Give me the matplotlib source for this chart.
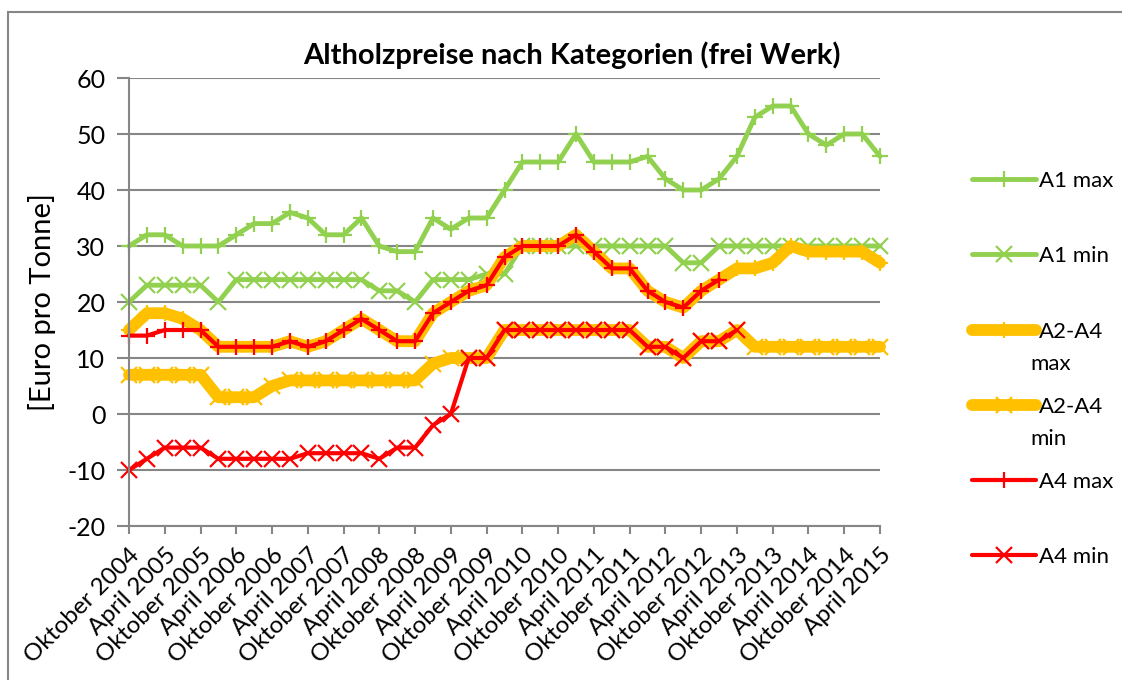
import numpy as np
import matplotlib
matplotlib.use("Agg")
import matplotlib.pyplot as plt
from matplotlib.patches import Rectangle

plt.rcParams['font.family'] = ['Lato', 'DejaVu Sans']
plt.rcParams['axes.unicode_minus'] = False

tick_labels = ["Oktober 2004", "April 2005", "Oktober 2005", "April 2006", "Oktober 2006",
               "April 2007", "Oktober 2007", "April 2008", "Oktober 2008", "April 2009",
               "Oktober 2009", "April 2010", "Oktober 2010", "April 2011", "Oktober 2011",
               "April 2012", "Oktober 2012", "April 2013", "Oktober 2013", "April 2014",
               "Oktober 2014", "April 2015"]

nan = np.nan
a1_max = [30, 32, 32, 30, 30, 30, 32, 34, 34, 36, 35, 32, 32, 35, 30, 29, 29, 35, 33, 35, 35,
          40, 45, 45, 45, 50, 45, 45, 45, 46, 42, 40, 40, 42, 46, 53, 55, 55, 50, 48, 50, 50, 46]
a1_min = [20, 23, 23, 23, 23, 20, 24, 24, 24, 24, 24, 24, 24, 24, 22, 22, 20, 24, 24, 24, 25,
          25, 30, 30, 30, 30, 30, 30, 30, 30, 30, 27, 27, 30, 30, 30, 30, 30, 30, 30, 30, 30, 30]
a24_max = [15, 18, 18, 17, 15, 12, 12, 12, 12, 13, 12, 13, 15, 17, 15, 13, 13, 18, 20, 22, 23,
           28, 30, 30, 30, 32, 29, 26, 26, 22, 20, 19, 22, 24, 26, 26, 27, 30, 29, 29, 29, 29, 27]
a24_min = [7, 7, 7, 7, 7, 3, 3, 3, 5, 6, 6, 6, 6, 6, 6, 6, 6, 9, 10, 10, 10,
           15, 15, 15, 15, 15, 15, 15, 15, 12, 12, 10, 13, 13, 15, 12, 12, 12, 12, 12, 12, 12, 12]
a4_max = [14, 14, 15, 15, 15, 12, 12, 12, 12, 13, 12, 13, 15, 17, 15, 13, 13, 18, 20, 22, 23,
          28, 30, 30, 30, 32, 29, 26, 26, 22, 20, 19, 22, 24, nan, nan, nan, nan, nan, nan, nan, nan, nan]
a4_min = [-10, -8, -6, -6, -6, -8, -8, -8, -8, -8, -7, -7, -7, -7, -8, -6, -6, -2, 0, 10, 10,
          15, 15, 15, 15, 15, 15, 15, 15, 12, 12, 10, 13, 13, 15, nan, nan, nan, nan, nan, nan, nan, nan]

series = [
    ("A1 max", a1_max, "#92D050", 3.5, "+"),
    ("A1 min", a1_min, "#92D050", 3.5, "x"),
    ("A2-A4 max", a24_max, "#FFC000", 8.5, "+"),
    ("A2-A4 min", a24_min, "#FFC000", 8.5, "x"),
    ("A4 max", a4_max, "#FF0000", 3.0, "+"),
    ("A4 min", a4_min, "#FF0000", 3.0, "x"),
]

W, H = 1122, 680
fig = plt.figure(figsize=(W / 100, H / 100), dpi=100)
ax = fig.add_axes([129 / W, 1 - 526 / H, (880 - 129) / W, (526 - 78) / H])

x = np.arange(len(a1_max))
handles = []
for name, vals, col, lw, mk in series:
    ln, = ax.plot(x, vals, color=col, lw=lw, marker=mk, markersize=11, mew=1.6,
                  solid_joinstyle='round', solid_capstyle='round', clip_on=False)
    handles.append(ln)

grid_col = "#868686"
ax.set_xlim(0, len(a1_max) - 1)
ax.set_ylim(-20, 60)
ax.set_yticks(np.arange(-20, 61, 10))
ax.yaxis.grid(True, color=grid_col, lw=1.5)
ax.set_axisbelow(True)
ax.set_xticks(np.arange(0, len(a1_max), 2))
ax.set_xticklabels(tick_labels, rotation=45, ha='right', rotation_mode='anchor', fontsize=17.5)
ax.tick_params(axis='x', length=6, width=1.5, color=grid_col, pad=7)
ax.tick_params(axis='y', length=9, width=1.5, color=grid_col, labelsize=18, pad=8)
for s in ['top', 'right']:
    ax.spines[s].set_visible(False)
for s in ['left', 'bottom']:
    ax.spines[s].set_color(grid_col)
    ax.spines[s].set_linewidth(1.5)

ax.set_ylabel("[Euro pro Tonne]", fontsize=21, labelpad=8)
fig.text(572 / W, 1 - 55 / H, "Altholzpreise nach Kategorien (frei Werk)",
         ha='center', va='center', fontsize=21, fontweight='bold')

# legend
leg_y = [181, 256, 332, 407, 482, 557]
leg_labels = ["A1 max", "A1 min", "A2-A4", "A2-A4", "A4 max", "A4 min"]
extra = {2: "max", 3: "min"}
for i, (h, lab, yy) in enumerate(zip(handles, leg_labels, leg_y)):
    fig.legend(handles=[h], labels=[lab], loc='center left',
               bbox_to_anchor=(972 / W, 1 - yy / H), frameon=False,
               fontsize=16, handlelength=2.9, handletextpad=0.12,
               borderpad=0, borderaxespad=0)
    if i in extra:
        fig.text(1030 / W, 1 - (yy + 32) / H, extra[i], fontsize=16, ha='left', va='center')

fig.patches.append(Rectangle((8 / W, -0.1), 1.2, 1 - 12 / H + 0.1, transform=fig.transFigure,
                             fill=False, edgecolor=grid_col, lw=1.5))

fig.savefig("out.png", dpi=100)
